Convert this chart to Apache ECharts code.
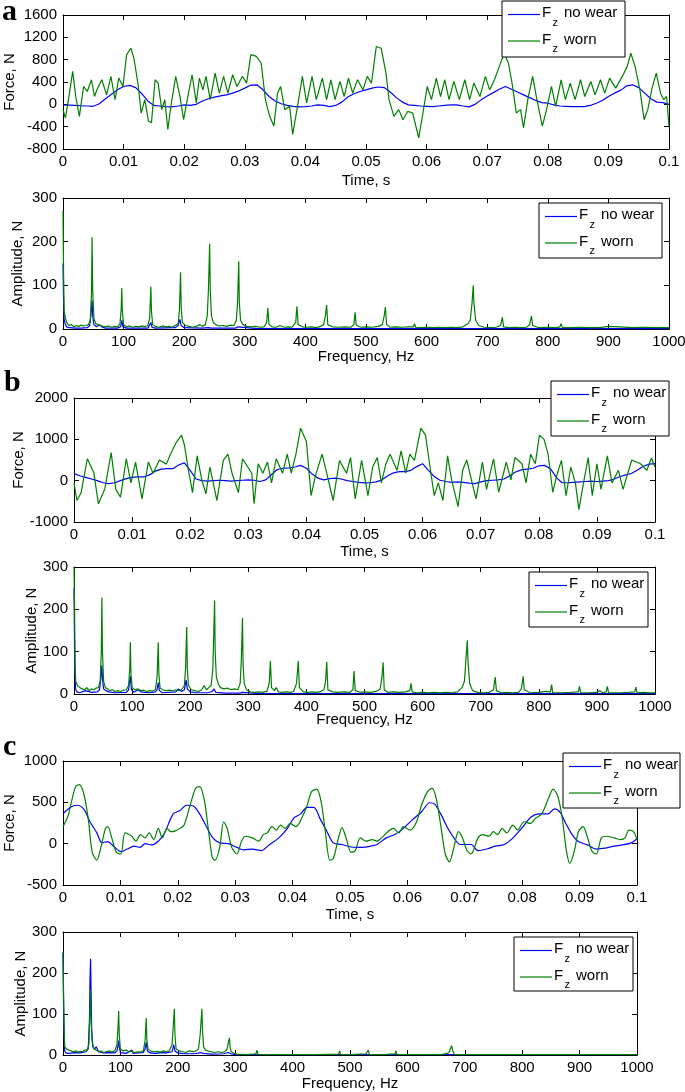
<!DOCTYPE html>
<html><head><meta charset="utf-8">
<script src="https://cdn.jsdelivr.net/npm/echarts@6/dist/echarts.min.js"></script>
<style>html,body{margin:0;padding:0;background:#fff}#c{width:685px;height:1092px}</style>
</head><body><div id="c"></div>
<script>
// ---------------- DATA ----------------
const seriesNames = ['no wear', 'worn'];
const timeStep = 0.001; // sampling of the "no wear" traces in panels a and b (s)

// Panel a, time domain (N)
const aNoWear = [-10,-15,-20,-25,-30,-35,10,100,180,260,
  320,340,300,190,60,-20,-30,-40,-45,-30,
  -10,-20,0,60,100,130,150,170,200,240,
  290,345,350,260,140,60,10,-20,-35,-45,
  -40,-30,-10,-20,-40,-20,40,130,190,230,
  260,290,310,300,220,120,40,-10,-20,-30,
  -35,-40,-30,-20,-10,-10,-30,-45,0,80,
  150,210,270,320,270,220,170,120,70,30,
  20,-10,-30,-35,-40,-40,-40,-20,20,70,
  140,200,250,330,350,300,200,100,40,30,
  0];
const aWorn = [[0,-95],[0.0004,-245],[0.0009,85],[0.0016,590],[0.0021,140],[0.0027,-215],[0.0034,320],[0.004,230],[0.0047,440],[0.0052,140],[0.0056,260],[0.0064,440],[0.0072,170],[0.0079,500],[0.0086,85],[0.0092,470],[0.0099,320],[0.0105,890],[0.0112,1005],[0.0117,830],[0.0124,350],[0.0129,-155],[0.0135,85],[0.0141,-300],[0.0146,-330],[0.0152,440],[0.0157,380],[0.0163,-95],[0.0168,85],[0.0173,-450],[0.0178,-35],[0.0186,500],[0.0193,140],[0.0199,-275],[0.0206,140],[0.0213,530],[0.022,25],[0.0225,470],[0.0231,260],[0.0236,500],[0.0243,85],[0.0251,560],[0.0258,200],[0.0265,500],[0.0272,200],[0.028,530],[0.0287,320],[0.0296,500],[0.0303,380],[0.031,890],[0.0319,860],[0.0327,740],[0.0334,85],[0.0341,-215],[0.0348,-390],[0.0354,200],[0.0359,320],[0.0366,-95],[0.0374,-35],[0.0379,-540],[0.0387,-35],[0.0395,500],[0.0402,25],[0.0411,500],[0.0418,85],[0.0428,470],[0.0435,85],[0.0442,440],[0.0449,85],[0.0457,410],[0.0464,140],[0.0471,470],[0.0478,200],[0.0486,440],[0.0495,260],[0.0502,500],[0.0509,380],[0.0517,1035],[0.0525,1005],[0.0533,560],[0.0538,85],[0.0546,-215],[0.0554,-95],[0.0561,-275],[0.0569,-125],[0.0577,-155],[0.0587,-600],[0.0594,-155],[0.0601,320],[0.0608,85],[0.0616,470],[0.0623,140],[0.063,440],[0.0637,85],[0.0645,410],[0.0654,85],[0.0663,440],[0.0671,85],[0.0678,380],[0.0688,140],[0.0697,500],[0.0704,260],[0.0712,440],[0.072,680],[0.0728,915],[0.0735,740],[0.0741,380],[0.0748,-155],[0.0755,-95],[0.076,-420],[0.0767,85],[0.0775,500],[0.0782,85],[0.0791,-390],[0.0798,-95],[0.0806,320],[0.0813,-35],[0.0822,440],[0.0829,85],[0.0837,380],[0.0845,85],[0.0854,440],[0.0861,140],[0.0871,410],[0.0878,170],[0.0887,440],[0.0894,200],[0.0902,470],[0.0912,290],[0.0923,500],[0.0931,680],[0.0937,915],[0.0944,680],[0.0952,260],[0.0959,-275],[0.0965,-95],[0.0972,290],[0.0979,560],[0.0986,200],[0.0991,85],[0.0996,140],[0.1,-390]];

// Panel a, spectrum [Hz, N]
const aSpecNoWear = [[0,150],[1,60],[2,20],[4,10],[6,5],[10,3],[20,2],[30,2],[40,3],[44,8],[46,30],[48,66],[49,30],[51,10],[55,5],[60,10],[65,4],[70,2],[90,2],[95,5],[97,20],[99,5],[105,2],[140,2],[143,5],[145,15],[147,4],[152,2],[185,3],[190,8],[193,22],[195,8],[200,3],[230,2],[240,3],[242,5],[244,2],[285,2],[289,5],[290,8],[292,2],[320,1],[400,1],[500,1],[600,1],[700,1],[800,1],[900,1],[1000,1]];
const aSpecWorn = [[0,270],[1,120],[2,40],[4,25],[6,15],[10,8],[14,10],[18,5],[22,8],[26,6],[30,9],[34,7],[38,8],[42,10],[45,20],[47,80],[48,210],[49,90],[51,25],[54,12],[58,10],[62,8],[66,6],[70,5],[75,7],[80,4],[85,6],[90,5],[94,12],[96,45],[97,93],[98,40],[100,10],[105,5],[110,7],[115,4],[120,6],[125,5],[130,7],[135,5],[140,8],[143,25],[145,97],[146,40],[148,10],[152,6],[158,4],[165,7],[170,5],[175,6],[180,4],[185,8],[190,12],[192,40],[194,130],[195,50],[197,15],[202,8],[208,6],[214,4],[220,6],[226,10],[230,6],[235,10],[238,30],[240,90],[242,195],[243,90],[245,30],[248,15],[252,10],[258,7],[264,8],[270,6],[276,9],[282,8],[286,20],[288,60],[290,155],[291,60],[293,20],[297,10],[303,6],[310,5],[318,6],[325,4],[332,5],[336,15],[338,48],[340,10],[345,5],[352,4],[358,8],[365,4],[372,5],[378,4],[384,15],[386,52],[388,10],[395,5],[402,4],[410,5],[418,3],[425,6],[430,10],[433,30],[435,55],[437,10],[445,5],[455,4],[465,5],[475,4],[480,10],[482,38],[484,8],[492,4],[500,5],[510,4],[520,6],[527,10],[530,30],[532,50],[534,10],[540,4],[550,5],[560,4],[570,5],[578,5],[580,12],[582,4],[590,3],[600,4],[610,3],[620,4],[630,3],[640,4],[650,3],[660,5],[668,12],[672,20],[675,60],[677,100],[678,60],[681,20],[686,8],[695,4],[705,3],[715,4],[722,8],[725,27],[727,5],[735,3],[745,4],[755,3],[765,4],[770,10],[773,30],[775,8],[785,3],[800,4],[815,3],[820,5],[822,12],[824,3],[840,3],[855,4],[868,3],[870,6],[872,3],[885,3],[900,6],[902,3],[918,5],[920,3],[940,3],[960,4],[980,3],[1000,3]];

// Panel b, time domain (N)
const bNoWear = [170,120,80,40,0,-50,-70,-50,0,50,
  80,90,90,140,230,280,290,290,380,430,
  250,40,0,-10,0,10,0,-10,0,10,
  20,10,-20,20,150,270,300,310,330,370,
  300,160,60,20,50,60,40,0,-20,-40,
  -55,-50,-30,20,120,190,220,220,250,340,
  410,250,100,10,-20,-40,-30,-40,-60,-70,
  -30,0,10,20,40,120,210,260,280,300,
  360,370,290,80,-50,-50,-40,-30,-20,-10,
  -20,-10,0,40,100,140,180,260,350,400,
  410];
const bWorn = [[0,-50],[0.0005,-480],[0.0012,-300],[0.0023,530],[0.0034,200],[0.0042,-560],[0.0053,-200],[0.0064,680],[0.0072,-210],[0.008,-400],[0.009,530],[0.0098,-55],[0.0106,450],[0.0117,-440],[0.0128,450],[0.0136,180],[0.0147,500],[0.0159,400],[0.0166,640],[0.0175,900],[0.0185,1100],[0.019,870],[0.0197,250],[0.0204,-290],[0.0212,600],[0.022,20],[0.0227,-320],[0.0234,330],[0.0246,-480],[0.0257,490],[0.0265,640],[0.0272,180],[0.0283,-290],[0.029,530],[0.0306,180],[0.031,-560],[0.0317,410],[0.0325,180],[0.0333,450],[0.034,-55],[0.0348,530],[0.0359,180],[0.0367,640],[0.0374,180],[0.0382,640],[0.039,1270],[0.04,950],[0.0408,-360],[0.0416,140],[0.0427,640],[0.0435,180],[0.0446,-480],[0.0457,490],[0.0469,180],[0.0476,560],[0.0484,-440],[0.0495,490],[0.0506,-360],[0.0514,330],[0.0522,560],[0.0529,-55],[0.0537,410],[0.0544,640],[0.0556,250],[0.0563,720],[0.0571,180],[0.0578,640],[0.0586,490],[0.0597,1270],[0.0605,1100],[0.0612,410],[0.062,-360],[0.0627,-55],[0.0635,-480],[0.0643,600],[0.065,20],[0.0661,-630],[0.0669,250],[0.0676,500],[0.0684,20],[0.0692,-440],[0.0703,450],[0.071,-210],[0.0722,530],[0.0731,-280],[0.0744,450],[0.0752,20],[0.0759,560],[0.0771,410],[0.0778,-55],[0.0786,640],[0.0794,410],[0.0801,1100],[0.0809,1000],[0.0816,640],[0.0824,-280],[0.0832,180],[0.0839,490],[0.0847,-360],[0.0855,330],[0.0863,-55],[0.0869,-700],[0.0877,-55],[0.0885,560],[0.0892,-360],[0.09,410],[0.0907,-210],[0.0918,600],[0.0926,-55],[0.0937,250],[0.0945,-210],[0.096,500],[0.0975,410],[0.0986,250],[0.0994,550],[0.1,330]];

// Panel b, spectrum [Hz, N]
const bSpecNoWear = [[0,250],[1,100],[2,30],[3,10],[5,5],[10,3],[20,8],[30,4],[40,5],[44,10],[46,35],[48,68],[49,35],[51,12],[55,8],[60,5],[70,3],[90,4],[94,10],[97,42],[99,10],[103,4],[110,10],[115,5],[130,3],[140,5],[143,10],[145,27],[147,8],[152,3],[175,5],[180,12],[185,6],[190,10],[193,33],[195,12],[200,5],[210,3],[230,3],[238,6],[241,12],[244,4],[260,2],[285,2],[290,4],[292,2],[320,1],[400,1],[500,1],[600,1],[700,1],[800,1],[900,1],[1000,1]];
const bSpecWorn = [[0,300],[1,200],[2,60],[3,30],[6,20],[10,15],[14,12],[18,10],[22,15],[26,8],[30,12],[34,10],[38,14],[42,15],[45,30],[47,100],[48,228],[49,100],[51,30],[54,15],[58,12],[62,8],[66,10],[70,6],[75,8],[80,6],[85,9],[90,10],[94,20],[96,60],[97,122],[98,50],[100,15],[105,10],[110,12],[115,8],[120,9],[125,6],[130,8],[135,7],[140,10],[143,40],[145,122],[146,50],[148,15],[152,10],[158,8],[165,9],[170,7],[175,10],[180,8],[185,10],[190,20],[192,60],[194,158],[195,60],[197,20],[202,10],[208,8],[214,6],[220,10],[224,20],[228,10],[232,15],[236,20],[239,60],[242,221],[243,100],[245,40],[248,25],[252,15],[258,12],[264,14],[270,10],[276,12],[282,10],[286,25],[288,80],[290,180],[291,70],[293,25],[297,10],[303,5],[310,4],[318,5],[325,4],[332,6],[336,25],[338,78],[340,15],[345,8],[348,15],[352,5],[358,4],[365,5],[372,4],[378,6],[383,25],[386,78],[388,15],[395,5],[402,4],[410,5],[418,4],[425,6],[430,10],[433,30],[435,76],[437,10],[445,5],[455,4],[465,5],[475,4],[480,10],[482,54],[484,8],[492,4],[500,5],[510,4],[520,6],[527,12],[530,40],[532,75],[534,10],[540,4],[550,5],[560,4],[570,5],[578,8],[580,25],[582,5],[590,3],[600,4],[610,3],[620,4],[630,3],[640,4],[650,3],[660,5],[668,15],[672,30],[675,90],[677,127],[678,80],[681,25],[686,8],[695,4],[705,3],[715,4],[722,10],[725,40],[727,8],[735,3],[745,4],[755,3],[765,4],[770,12],[773,42],[775,10],[785,3],[800,4],[812,6],[815,3],[820,5],[822,22],[824,3],[840,3],[855,4],[868,5],[870,18],[872,3],[885,3],[900,4],[905,8],[910,3],[916,5],[918,18],[920,3],[940,3],[955,4],[965,5],[967,16],[969,3],[980,4],[990,3],[1000,3]];

// Panel c, time domain [s, N]
const cNoWear = [[0,360],[0.0013,440],[0.0024,465],[0.0036,420],[0.0047,265],[0.0059,130],[0.0068,10],[0.0078,25],[0.0088,-30],[0.0101,-95],[0.0112,-65],[0.0124,-30],[0.0134,-45],[0.0143,0],[0.0154,-15],[0.0166,30],[0.0177,130],[0.0192,360],[0.0204,400],[0.0215,465],[0.0227,455],[0.0238,360],[0.025,205],[0.0261,70],[0.0273,10],[0.0288,0],[0.0303,-45],[0.0315,-75],[0.033,-65],[0.0345,-85],[0.036,-10],[0.0376,70],[0.0391,185],[0.0402,310],[0.0414,360],[0.0425,440],[0.0437,440],[0.0448,300],[0.046,145],[0.0471,10],[0.0486,-10],[0.0502,-40],[0.0521,-45],[0.0536,-30],[0.0547,-10],[0.0563,70],[0.0578,110],[0.0593,185],[0.0608,285],[0.0624,380],[0.0639,495],[0.0648,475],[0.0658,360],[0.0669,205],[0.0681,70],[0.0692,-10],[0.0711,-10],[0.0723,-85],[0.0738,-65],[0.0753,-30],[0.0769,-10],[0.0784,70],[0.0799,185],[0.0815,320],[0.083,360],[0.0845,360],[0.0856,420],[0.0866,380],[0.0876,245],[0.0887,110],[0.0898,25],[0.0914,-15],[0.0929,-65],[0.0944,-55],[0.096,-30],[0.0975,-15],[0.099,10],[0.1,60]];
const cWorn = [[0,205],[0.0009,340],[0.0015,515],[0.0022,690],[0.0028,715],[0.0036,610],[0.0044,300],[0.0051,-105],[0.0059,-200],[0.0066,-45],[0.0074,185],[0.0078,205],[0.0085,70],[0.0093,-105],[0.0101,-125],[0.0108,130],[0.012,90],[0.0127,30],[0.0135,110],[0.0143,70],[0.015,130],[0.0158,50],[0.0166,185],[0.0173,70],[0.0181,185],[0.0188,145],[0.0196,155],[0.0204,185],[0.0211,225],[0.0221,455],[0.0231,670],[0.0238,690],[0.0246,535],[0.0253,185],[0.026,-165],[0.0265,-200],[0.0273,-45],[0.028,265],[0.0286,185],[0.0294,-45],[0.0303,-125],[0.0311,30],[0.0318,90],[0.033,70],[0.0341,30],[0.0349,110],[0.0356,130],[0.0364,205],[0.0372,165],[0.0379,225],[0.0387,185],[0.0396,245],[0.0406,205],[0.0418,340],[0.0425,455],[0.0433,630],[0.0442,660],[0.045,495],[0.0457,145],[0.0465,-200],[0.0471,-180],[0.048,70],[0.0486,195],[0.0494,50],[0.0502,-105],[0.0509,-85],[0.0518,70],[0.0528,30],[0.0539,50],[0.0547,30],[0.0555,70],[0.0566,145],[0.0576,185],[0.0585,130],[0.0593,205],[0.0605,165],[0.0616,265],[0.0624,455],[0.0635,630],[0.0643,670],[0.065,555],[0.0658,225],[0.0666,-125],[0.0673,-220],[0.0681,-45],[0.0689,145],[0.0696,70],[0.0704,-85],[0.0711,-125],[0.0723,70],[0.0731,110],[0.0742,90],[0.075,145],[0.0757,110],[0.0765,185],[0.0773,130],[0.0784,225],[0.0792,165],[0.0803,265],[0.0815,245],[0.0822,300],[0.0834,360],[0.0845,535],[0.0854,660],[0.0862,575],[0.087,300],[0.0877,-85],[0.0883,-240],[0.0891,-85],[0.0898,145],[0.0906,205],[0.0914,70],[0.0921,-85],[0.0929,-125],[0.0938,70],[0.0948,90],[0.096,70],[0.0971,50],[0.0979,70],[0.0986,165],[0.0994,145],[0.1,50]];

// Panel c, spectrum [Hz, N]
const cSpecNoWear = [[0,250],[1,120],[2,40],[3,10],[5,5],[10,4],[20,6],[30,5],[40,8],[44,15],[46,80],[47,180],[48,235],[49,150],[50,60],[52,20],[55,15],[58,20],[62,8],[70,5],[80,6],[90,5],[94,10],[96,25],[97,35],[98,20],[100,6],[110,4],[120,12],[122,4],[130,5],[140,6],[143,15],[145,30],[147,10],[152,5],[160,4],[175,6],[178,10],[180,5],[190,8],[193,25],[195,10],[200,5],[210,3],[230,3],[240,6],[242,10],[244,4],[260,2],[280,3],[288,6],[290,8],[292,3],[300,1],[400,1],[500,1],[600,1],[700,1],[800,1],[900,1],[1000,1]];
const cSpecWorn = [[0,250],[1,150],[2,60],[3,20],[6,15],[10,12],[14,10],[18,8],[22,10],[26,7],[30,9],[34,8],[38,12],[42,12],[45,25],[47,110],[48,160],[49,80],[51,30],[54,15],[58,12],[62,8],[66,10],[70,6],[75,8],[80,10],[85,7],[90,10],[94,25],[96,70],[97,107],[98,50],[100,15],[105,10],[110,12],[115,8],[120,9],[125,6],[130,8],[135,7],[140,10],[143,35],[145,90],[146,40],[148,15],[152,10],[158,8],[165,9],[170,7],[175,10],[180,8],[185,10],[190,25],[192,70],[194,113],[195,50],[197,15],[202,10],[208,8],[214,6],[220,10],[228,8],[232,10],[236,15],[239,50],[242,113],[243,60],[245,20],[248,12],[252,10],[258,8],[264,6],[270,8],[276,6],[282,8],[286,15],[288,30],[290,42],[291,20],[293,8],[297,5],[303,2],[320,1],[336,3],[338,12],[340,1],[360,1],[400,1],[440,1],[480,2],[482,10],[484,1],[500,1],[528,3],[532,12],[534,1],[560,1],[578,3],[580,10],[582,1],[620,1],[660,1],[672,5],[675,15],[677,23],[679,10],[682,1],[700,1],[800,1],[900,1],[916,1],[918,4],[920,1],[965,1],[967,4],[969,1],[1000,1]];

// ---------------- LAYOUT / STYLE ----------------
const FONT = '"Liberation Sans", Arial, Helvetica, sans-serif';
const BLUE = '#0000ff', GREEN = '#008000';
const panels = [
  {g:{left:63, top:15, width:606, height:134}, x:[0,0.1,0.01], y:[-800,1600,400], xName:'Time, s', yName:'Force, N', xGap:24, yGap:46, time:true,
   data:[aNoWear.map((v,i)=>[i*timeStep, v]), aWorn], smooth:false, leg:[502,1,123,56]},
  {g:{left:63, top:198, width:606, height:131}, x:[0,1000,100], y:[0,300,100], xName:'Frequency, Hz', yName:'Amplitude, N', xGap:20, yGap:38,
   data:[aSpecNoWear, aSpecWorn], smooth:false, leg:[539,203,123,55]},
  {g:{left:74, top:398, width:581, height:124}, x:[0,0.1,0.01], y:[-1000,2000,1000], xName:'Time, s', yName:'Force, N', xGap:22, yGap:48, time:true,
   data:[bNoWear.map((v,i)=>[i*timeStep, v]), bWorn], smooth:false, leg:[551,381,118,55]},
  {g:{left:74, top:567, width:581, height:127}, x:[0,1000,100], y:[0,300,100], xName:'Frequency, Hz', yName:'Amplitude, N', xGap:18.5, yGap:35,
   data:[bSpecNoWear, bSpecWorn], smooth:false, leg:[529,572,119,55]},
  {g:{left:63, top:761, width:574, height:124}, x:[0,0.1,0.01], y:[-500,1000,500], xName:'Time, s', yName:'Force, N', xGap:22, yGap:45.5, time:true,
   data:[cNoWear, cWorn], smooth:0.3, leg:[563,753,117,55]},
  {g:{left:63, top:932, width:574, height:123}, x:[0,1000,100], y:[0,300,100], xName:'Frequency, Hz', yName:'Amplitude, N', xGap:21, yGap:35,
   data:[cSpecNoWear, cSpecWorn], smooth:false, leg:[514,937,119,54]}
];
const panelLetters = [['a', 2, 12], ['b', 4, 383], ['c', 3, 747]];

const grid = [], xAxis = [], yAxis = [], series = [], graphic = [];
const axLine = {show:true, onZero:false, lineStyle:{color:'#000', width:1}};
const axTick = {show:true, inside:true, length:5, lineStyle:{color:'#000', width:1}};
const lbl = {color:'#000', fontSize:15, fontFamily:FONT};
const plain = v => String(Math.round(v * 1000) / 1000);

panels.forEach((p, i) => {
  grid.push(Object.assign({containLabel:false, outerBoundsMode:'none'}, p.g));
  const xBase = {type:'value', gridIndex:i, min:p.x[0], max:p.x[1], interval:p.x[2], splitLine:{show:false}, axisLine:axLine, axisTick:axTick};
  const yBase = {type:'value', gridIndex:i, min:p.y[0], max:p.y[1], interval:p.y[2], splitLine:{show:false}, axisLine:axLine, axisTick:axTick};
  xAxis.push(Object.assign({}, xBase, {position:'bottom', name:p.xName, nameLocation:'middle', nameGap:p.xGap, nameMoveOverlap:false,
    nameTextStyle:Object.assign({}, lbl), axisLabel:Object.assign({margin:5, formatter:plain, hideOverlap:false}, lbl)}));
  xAxis.push(Object.assign({}, xBase, {position:'top', axisLabel:{show:false}}));
  yAxis.push(Object.assign({}, yBase, {position:'left', name:p.yName, nameLocation:'middle', nameGap:p.yGap, nameMoveOverlap:false,
    nameTextStyle:Object.assign({}, lbl), axisLabel:Object.assign({margin:6, formatter:plain, hideOverlap:false}, lbl)}));
  yAxis.push(Object.assign({}, yBase, {position:'right', axisLabel:{show:false}}));
  [BLUE, GREEN].forEach((col, k) => {
    series.push({type:'line', name:seriesNames[k], xAxisIndex:2*i, yAxisIndex:2*i, data:p.data[k],
      symbol:'none', showSymbol:false, smooth:p.smooth, silent:true, animation:false,
      lineStyle:{color:col, width:1.2}, itemStyle:{color:col}});
  });
  // legend box (drawn with graphic so the subscript can be placed like the original)
  const [L, T, w, h] = p.leg;
  const Z = 100;
  const kids = [{type:'rect', z:Z, shape:{x:0, y:0, width:w, height:h}, style:{fill:'#fff', stroke:'#000', lineWidth:1}}];
  [BLUE, GREEN].forEach((col, k) => {
    const ly = k === 0 ? 13.5 : 40;
    kids.push({type:'line', z:Z+1, shape:{x1:6, y1:ly, x2:38, y2:ly}, style:{stroke:col, lineWidth:1.2}});
    kids.push({type:'text', z:Z+1, style:{x:40, y:ly-1.4, text:'F', font:'15px ' + FONT, fill:'#000', verticalAlign:'middle'}});
    kids.push({type:'text', z:Z+1, style:{x:50.5, y:ly+8.2, text:'z', font:'11px ' + FONT, fill:'#000', verticalAlign:'middle'}});
    kids.push({type:'text', z:Z+1, style:{x:62, y:ly-1.4, text:seriesNames[k], font:'15px ' + FONT, fill:'#000', verticalAlign:'middle'}});
  });
  graphic.push({type:'group', x:L, y:T, z:Z, children:kids});
});
panelLetters.forEach(([t, x, y]) => {
  graphic.push({type:'text', x:x, y:y, z:100, style:{text:t, font:'bold 30px "Liberation Serif", "Times New Roman", serif', fill:'#000', verticalAlign:'middle'}});
});

const chart = echarts.init(document.getElementById('c'), null, {renderer:'canvas', width:685, height:1092});
chart.setOption({
  animation:false,
  backgroundColor:'#fff',
  textStyle:{fontFamily:FONT},
  grid, xAxis, yAxis, series, graphic
});
</script>
</body></html>
